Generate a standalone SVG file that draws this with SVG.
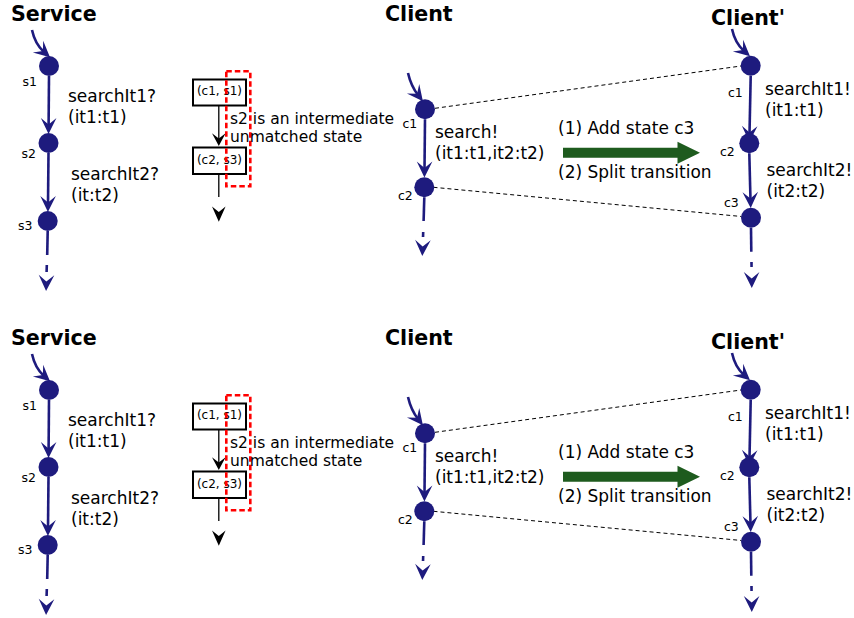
<svg xmlns="http://www.w3.org/2000/svg" width="854" height="618" viewBox="0 0 854 618">
<style>
.t{font-family:"DejaVu Sans","Liberation Sans",sans-serif;fill:#000}
.ttl{font-size:20.6px;font-weight:bold}
.lbl{font-size:17px}
.st{font-size:12.5px}
.bx{font-size:12px}
.note{font-size:15.5px}
.edge{fill:none;stroke:#1e1b7e;stroke-width:2.6;marker-end:url(#ah)}
.line{fill:none;stroke:#1e1b7e;stroke-width:2.6}
.dot{fill:#1e1b7e}
.match{fill:none;stroke:#000;stroke-width:1;stroke-dasharray:4,3}
.box{fill:#fff;stroke:#000;stroke-width:2}
.red{fill:none;stroke:#ff0000;stroke-width:2.6;stroke-dasharray:5.5,3}
.green{fill:#1e5b1e}
</style>
<defs>
<marker id="ah" markerUnits="userSpaceOnUse" orient="auto" overflow="visible" refX="0" refY="0" markerWidth="18" markerHeight="18">
<path d="M8,0 L-8,-7.8 L-1.5,0 L-8,7.8 Z" fill="#1e1b7e"/>
</marker>
</defs>

<!-- ===== TOP HALF ===== -->
<g id="top">
<g id="connectors-top">
<path class="match" d="M435,108.3 L741,66"/>
<path class="match" d="M433.5,187.3 L741.5,216.5"/>
<path class="edge" d="M32,30 Q35,44 44,52"/>
<path class="edge" d="M49,76 L48.6,126"/>
<path class="edge" d="M48.5,153 L48,204"/>
<path class="line" d="M47.7,231 L47.2,255"/>
<path class="edge" d="M46.8,265 L46.3,283" stroke-dasharray="7 100"/>
<path class="edge" d="M408,73 Q411,86 418,95"/>
<path class="edge" d="M425,119.3 L424.5,169.5"/>
<path class="line" d="M424.3,197.3 L423.6,221"/>
<path class="edge" d="M423.2,232 L422.6,248" stroke-dasharray="5 100"/>
<path class="edge" d="M732,29 Q735,43 744,51"/>
<path class="edge" d="M750.7,75.7 L749.5,134"/>
<path class="edge" d="M749.3,153.3 L750.5,200"/>
<path class="line" d="M751,227.7 L751.3,251.7"/>
<path class="edge" d="M751.5,262 L751.7,280" stroke-dasharray="5 100"/>
<path d="M218.8,105.5 L218.8,139" stroke="#000" stroke-width="1.3" fill="none"/>
<path d="M218.8,174 L218.8,197" stroke="#000" stroke-width="1.3" fill="none"/>
<polygon points="218.8,146 212,133.3 218.8,138.5 225.6,133.3" fill="#000"/>
<polygon points="218.8,221.7 212,206.5 218.8,212 225.6,206.5" fill="#000"/>
<polygon class="green" points="563,147.7 677.5,147.7 677.5,141.7 700,152.7 677.5,163.7 677.5,157.7 563,157.7"/>
</g>
<text class="t ttl" x="11" y="21">Service</text>
<text class="t ttl" x="385" y="21">Client</text>
<text class="t ttl" x="711" y="25">Client'</text>
<g id="s1-top"><circle class="dot" cx="49" cy="66" r="10"/><text class="t st" x="22.5" y="86">s1</text></g>
<g id="s2-top"><circle class="dot" cx="48.5" cy="143" r="10"/><text class="t st" x="21.5" y="158">s2</text></g>
<g id="s3-top"><circle class="dot" cx="47.7" cy="221" r="10"/><text class="t st" x="18" y="229.5">s3</text></g>
<text class="t lbl" x="68" y="102">searchIt1?</text>
<text class="t lbl" x="68" y="123">(it1:t1)</text>
<text class="t lbl" x="71" y="180">searchIt2?</text>
<text class="t lbl" x="71" y="201">(it:t2)</text>
<g id="c1-top"><circle class="dot" cx="425" cy="109.3" r="10"/><text class="t st" x="402.5" y="128">c1</text></g>
<g id="c2-top"><circle class="dot" cx="424.3" cy="187.3" r="10"/><text class="t st" x="398" y="200">c2</text></g>
<text class="t lbl" x="435" y="138">search!</text>
<text class="t lbl" x="435" y="159">(it1:t1,it2:t2)</text>
<text class="t lbl" x="558" y="134">(1) Add state c3</text>
<text class="t lbl" x="558" y="177.5">(2) Split transition</text>
<g id="c1p-top"><circle class="dot" cx="750.7" cy="65.7" r="10"/><text class="t st" x="728" y="97">c1</text></g>
<g id="c2p-top"><circle class="dot" cx="749.3" cy="143.3" r="10"/><text class="t st" x="720" y="156">c2</text></g>
<g id="c3p-top"><circle class="dot" cx="751" cy="217.7" r="10"/><text class="t st" x="724" y="207">c3</text></g>
<text class="t lbl" x="765" y="94.5">searchIt1!</text>
<text class="t lbl" x="765" y="115.5">(it1:t1)</text>
<text class="t lbl" x="766.5" y="176">searchIt2!</text>
<text class="t lbl" x="766.5" y="197">(it2:t2)</text>
<g id="pair1-top"><rect class="box" x="193" y="79.5" width="53" height="26"/><text class="t bx" x="219.5" y="95" text-anchor="middle">(c1, s1)</text></g>
<g id="pair2-top"><rect class="box" x="193" y="147.5" width="53" height="26.5"/><text class="t bx" x="219.5" y="164" text-anchor="middle">(c2, s3)</text></g>
<rect id="unmatched-top" class="red" x="226.3" y="71.3" width="24" height="115"/>
<text class="t note" x="230" y="123.5">s2 is an intermediate</text>
<text class="t note" x="230" y="141.8">unmatched state</text>
</g>

<!-- ===== BOTTOM HALF ===== -->
<g id="bottom" transform="translate(0,324)">
<g id="connectors-bottom">
<path class="match" d="M435,108.3 L741,66"/>
<path class="match" d="M433.5,187.3 L741.5,216.5"/>
<path class="edge" d="M32,30 Q35,44 44,52"/>
<path class="edge" d="M49,76 L48.6,126"/>
<path class="edge" d="M48.5,153 L48,204"/>
<path class="line" d="M47.7,231 L47.2,255"/>
<path class="edge" d="M46.8,265 L46.3,283" stroke-dasharray="7 100"/>
<path class="edge" d="M408,73 Q411,86 418,95"/>
<path class="edge" d="M425,119.3 L424.5,169.5"/>
<path class="line" d="M424.3,197.3 L423.6,221"/>
<path class="edge" d="M423.2,232 L422.6,248" stroke-dasharray="5 100"/>
<path class="edge" d="M732,29 Q735,43 744,51"/>
<path class="edge" d="M750.7,75.7 L749.5,134"/>
<path class="edge" d="M749.3,153.3 L750.5,200"/>
<path class="line" d="M751,227.7 L751.3,251.7"/>
<path class="edge" d="M751.5,262 L751.7,280" stroke-dasharray="5 100"/>
<path d="M218.8,105.5 L218.8,139" stroke="#000" stroke-width="1.3" fill="none"/>
<path d="M218.8,174 L218.8,197" stroke="#000" stroke-width="1.3" fill="none"/>
<polygon points="218.8,146 212,133.3 218.8,138.5 225.6,133.3" fill="#000"/>
<polygon points="218.8,221.7 212,206.5 218.8,212 225.6,206.5" fill="#000"/>
<polygon class="green" points="563,147.7 677.5,147.7 677.5,141.7 700,152.7 677.5,163.7 677.5,157.7 563,157.7"/>
</g>
<text class="t ttl" x="11" y="21">Service</text>
<text class="t ttl" x="385" y="21">Client</text>
<text class="t ttl" x="711" y="25">Client'</text>
<g id="s1-bottom"><circle class="dot" cx="49" cy="66" r="10"/><text class="t st" x="22.5" y="86">s1</text></g>
<g id="s2-bottom"><circle class="dot" cx="48.5" cy="143" r="10"/><text class="t st" x="21.5" y="158">s2</text></g>
<g id="s3-bottom"><circle class="dot" cx="47.7" cy="221" r="10"/><text class="t st" x="18" y="229.5">s3</text></g>
<text class="t lbl" x="68" y="102">searchIt1?</text>
<text class="t lbl" x="68" y="123">(it1:t1)</text>
<text class="t lbl" x="71" y="180">searchIt2?</text>
<text class="t lbl" x="71" y="201">(it:t2)</text>
<g id="c1-bottom"><circle class="dot" cx="425" cy="109.3" r="10"/><text class="t st" x="402.5" y="128">c1</text></g>
<g id="c2-bottom"><circle class="dot" cx="424.3" cy="187.3" r="10"/><text class="t st" x="398" y="200">c2</text></g>
<text class="t lbl" x="435" y="138">search!</text>
<text class="t lbl" x="435" y="159">(it1:t1,it2:t2)</text>
<text class="t lbl" x="558" y="134">(1) Add state c3</text>
<text class="t lbl" x="558" y="177.5">(2) Split transition</text>
<g id="c1p-bottom"><circle class="dot" cx="750.7" cy="65.7" r="10"/><text class="t st" x="728" y="97">c1</text></g>
<g id="c2p-bottom"><circle class="dot" cx="749.3" cy="143.3" r="10"/><text class="t st" x="720" y="156">c2</text></g>
<g id="c3p-bottom"><circle class="dot" cx="751" cy="217.7" r="10"/><text class="t st" x="724" y="207">c3</text></g>
<text class="t lbl" x="765" y="94.5">searchIt1!</text>
<text class="t lbl" x="765" y="115.5">(it1:t1)</text>
<text class="t lbl" x="766.5" y="176">searchIt2!</text>
<text class="t lbl" x="766.5" y="197">(it2:t2)</text>
<g id="pair1-bottom"><rect class="box" x="193" y="79.5" width="53" height="26"/><text class="t bx" x="219.5" y="95" text-anchor="middle">(c1, s1)</text></g>
<g id="pair2-bottom"><rect class="box" x="193" y="147.5" width="53" height="26.5"/><text class="t bx" x="219.5" y="164" text-anchor="middle">(c2, s3)</text></g>
<rect id="unmatched-bottom" class="red" x="226.3" y="71.3" width="24" height="115"/>
<text class="t note" x="230" y="123.5">s2 is an intermediate</text>
<text class="t note" x="230" y="141.8">unmatched state</text>
</g>
</svg>
